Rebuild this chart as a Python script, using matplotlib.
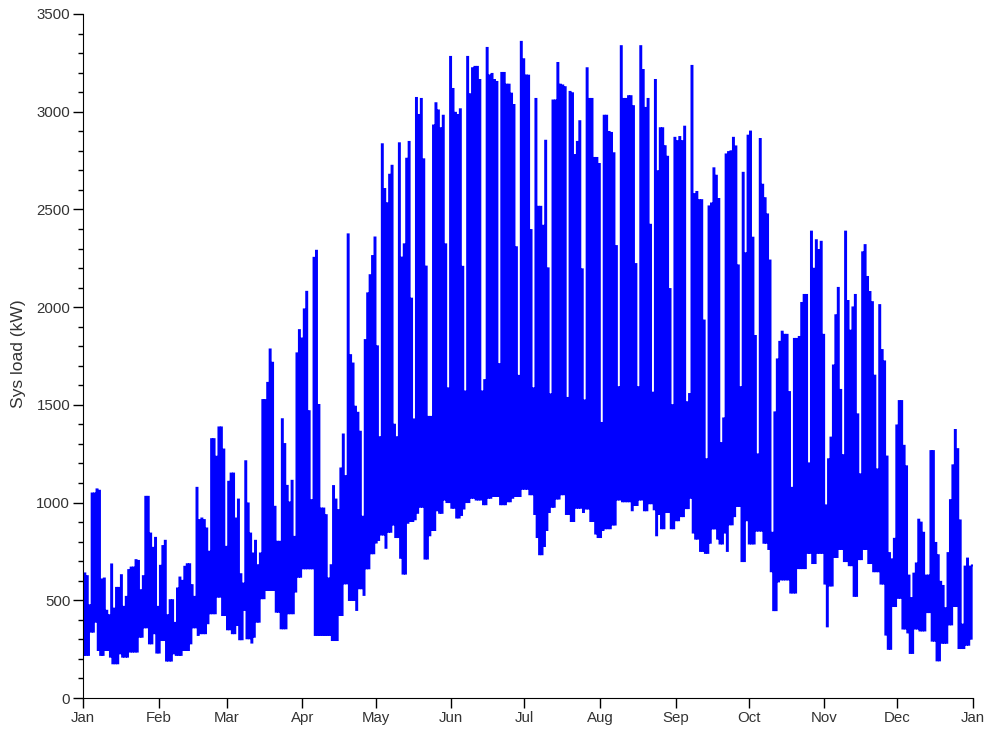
import matplotlib
matplotlib.use('Agg')
import matplotlib.pyplot as plt
import numpy as np
from matplotlib.ticker import MultipleLocator

plt.rcParams['font.family'] = ['Liberation Sans', 'DejaVu Sans']

month_labels = ['Jan', 'Feb', 'Mar', 'Apr', 'May', 'Jun', 'Jul', 'Aug', 'Sep', 'Oct', 'Nov', 'Dec', 'Jan']
month_starts = [0, 31, 59, 90, 120, 151, 181, 212, 243, 273, 304, 334, 365]

# daily highest load (kW)
day_peak = [
    638, 624, 475,
    1047, 1047, 1068, 1061, 607, 612, 447,
    424, 684, 458, 564, 564, 629, 467,
    518, 655, 668, 668, 706, 702, 552,
    624, 1030, 1030, 842, 769, 820, 467,
    677, 778, 805, 424, 501, 501, 385,
    561, 617, 600, 672, 685, 685, 578,
    518, 1076, 911, 919, 911, 868, 749,
    1325, 1325, 1235, 1385, 1385, 1272, 774,
    1107, 1149, 1149, 919, 1016, 634, 586,
    1212, 996, 842, 740, 805, 680, 740,
    1525, 1525, 1613, 1784, 1716, 979, 800,
    800, 1427, 1300, 1086, 1001, 1112, 825,
    1764, 1883, 1840, 1989, 2079, 1468, 1013,
    2253, 2289, 1500, 970, 970, 936, 612,
    680, 1085, 1016, 962, 1175, 1349, 1136,
    2373, 1755, 1712, 1491, 1460, 1363, 928,
    1832, 2071, 2164, 2262, 2357, 1800, 1335,
    2834, 2605, 2532, 2678, 2724, 1399, 1335,
    2839, 2254, 2322, 2760, 2846, 2044, 1426,
    3071, 2984, 3066, 2757, 2208, 1439, 1439,
    2930, 3044, 3007, 2916, 2980, 2322, 1585,
    3281, 3117, 2995, 2984, 3013, 2207, 1569,
    3281, 3090, 3223, 3230, 3230, 3163, 1569,
    1627, 3327, 3186, 3194, 3163, 3153, 1709,
    3199, 3199, 3139, 3139, 3093, 3035, 2307,
    1649, 3358, 3269, 3186, 3185, 2395, 1585,
    3066, 2514, 2514, 2417, 2852, 2199, 1554,
    3058, 3058, 3250, 3139, 3135, 3126, 1536,
    3102, 3095, 2779, 2846, 2952, 2194, 1523,
    3223, 3066, 3066, 2764, 2764, 2733, 1408,
    2980, 2980, 2897, 2892, 2788, 2313, 1591,
    3336, 3066, 3066, 3080, 3080, 3029, 2221,
    1591, 3336, 3214, 3020, 3066, 2422, 1563,
    3163, 2696, 2916, 2916, 2824, 2770, 2093,
    1499, 2867, 2850, 2871, 2850, 2924, 1514,
    1556, 3235, 2579, 2590, 2548, 2548, 1932,
    1222, 2516, 2531, 2711, 2673, 2554, 1305,
    1431, 2782, 2794, 2798, 2867, 2823, 2214,
    1591, 2688, 2276, 2878, 2899, 2356, 1853,
    1247, 2861, 2627, 2558, 2475, 2239, 846,
    1462, 1733, 1823, 1875, 1859, 1859, 1566,
    1076, 1838, 1838, 1848, 2022, 2063, 2063,
    1201, 2387, 2197, 2343, 2293, 2335, 1859,
    986, 1222, 1333, 1702, 1959, 2099, 1577,
    1243, 2387, 2032, 1880, 1999, 2063, 1452,
    1145, 2281, 2318, 2155, 2078, 2026, 1650,
    1170, 2011, 1781, 1723, 1236, 742, 710,
    815, 1395, 1520, 1520, 1291, 1186, 627,
    512, 637, 689, 913, 898, 846, 627,
    627, 1264, 1264, 794, 731, 595, 574,
    460, 742, 1013, 1191, 1372, 1274, 909,
    376, 673, 714, 673, 679,
]

# daily lowest load (kW)
day_low = [
    220, 220, 220,
    339, 339, 390, 245, 220, 220, 245,
    245, 211, 177, 177, 177, 228, 211,
    211, 211, 237, 237, 237, 237, 313,
    313, 361, 361, 279, 279, 331, 232,
    232, 296, 296, 191, 191, 191, 228,
    220, 220, 220, 245, 245, 245, 279,
    361, 361, 322, 331, 331, 331, 382,
    433, 433, 433, 518, 518, 424, 424,
    351, 351, 331, 331, 373, 300, 300,
    450, 305, 305, 283, 313, 390, 390,
    510, 510, 552, 552, 552, 552, 441,
    441, 356, 356, 356, 433, 433, 433,
    544, 620, 620, 663, 663, 663, 663,
    663, 322, 322, 322, 322, 322, 322,
    322, 296, 296, 296, 424, 424, 586,
    586, 501, 501, 501, 450, 561, 561,
    527, 663, 663, 740, 740, 795, 808,
    836, 836, 768, 850, 850, 887, 823,
    823, 717, 636, 636, 896, 905, 905,
    914, 947, 978, 978, 713, 713, 832,
    859, 859, 960, 947, 947, 1015, 1002,
    1002, 973, 973, 923, 923, 936, 969,
    1002, 1002, 1024, 1024, 1015, 1015, 1015,
    991, 991, 1024, 1024, 1033, 1033, 1033,
    991, 991, 991, 1006, 1006, 1024, 1033,
    1033, 1033, 1070, 1070, 1070, 1042, 1042,
    941, 823, 735, 735, 777, 859, 951,
    978, 978, 1020, 1020, 1042, 1042, 941,
    941, 905, 905, 973, 973, 973, 951,
    969, 969, 905, 905, 841, 823, 823,
    859, 868, 868, 868, 887, 887, 1015,
    1015, 1006, 1006, 1006, 1006, 960, 987,
    987, 1015, 1015, 960, 960, 996, 996,
    965, 832, 941, 868, 868, 951, 951,
    868, 868, 909, 909, 930, 930, 971,
    971, 1024, 846, 815, 815, 752, 752,
    742, 742, 794, 867, 867, 815, 790,
    790, 846, 752, 888, 888, 930, 982,
    982, 700, 700, 909, 790, 790, 790,
    856, 856, 856, 794, 794, 762, 648,
    449, 449, 596, 606, 606, 606, 606,
    539, 539, 539, 664, 664, 664, 664,
    742, 742, 690, 690, 742, 742, 742,
    585, 366, 575, 575, 721, 721, 762,
    762, 700, 700, 679, 679, 522, 522,
    710, 710, 762, 762, 690, 690, 648,
    648, 648, 585, 585, 324, 251, 251,
    470, 470, 512, 512, 355, 355, 335,
    230, 230, 355, 355, 345, 345, 345,
    439, 439, 293, 293, 192, 192, 282,
    282, 282, 376, 376, 470, 470, 255,
    255, 255, 272, 272, 303,
]

# one low and one high sample per day
sys_load = np.column_stack([day_low, day_peak]).ravel()
days = (np.arange(len(sys_load)) + 0.5) / 2

fig = plt.figure(figsize=(9.87, 7.31), dpi=100)
ax = fig.add_axes([83 / 987, 33 / 731, 890 / 987, 684 / 731])

ax.plot(days, sys_load, color='#0000ff', linewidth=1.25, drawstyle='steps-mid',
        solid_joinstyle='miter')

ax.set_xlim(0, 365)
ax.set_ylim(0, 3500)
ax.set_xticks(month_starts)
ax.set_xticklabels(month_labels)
ax.yaxis.set_major_locator(MultipleLocator(500))
ax.yaxis.set_minor_locator(MultipleLocator(100))
ax.tick_params(axis='x', length=7.2, width=1, pad=2, labelsize=10.8, labelcolor='#333333')
ax.tick_params(axis='y', which='major', length=7.2, width=1, pad=2, labelsize=10.8, labelcolor='#333333')
ax.tick_params(axis='y', which='minor', length=3.4, width=1)
ax.spines['top'].set_visible(False)
ax.spines['right'].set_visible(False)

fig.text(19 / 987, 1 - 354 / 731, 'Sys load (kW)', rotation=90, ha='center', va='center',
         fontsize=12.6, color='#333333')

fig.savefig('out.png', dpi=100)
